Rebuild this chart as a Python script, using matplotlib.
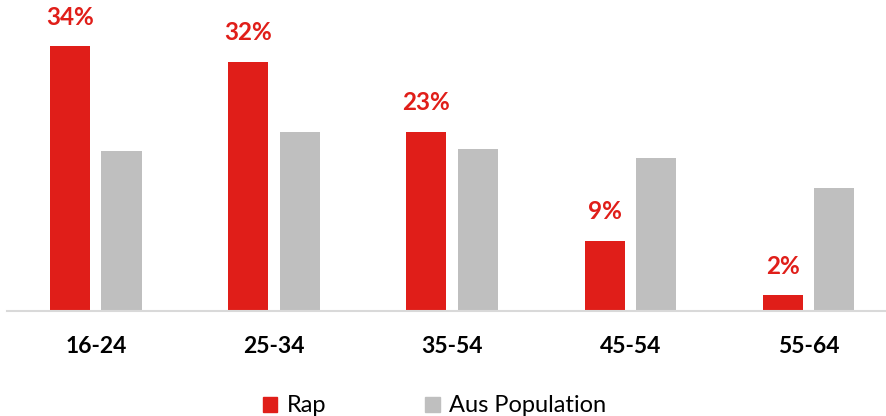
import numpy as np
import matplotlib.pyplot as plt
from matplotlib.patches import Patch

# data
categories = ['16-24', '25-34', '35-54', '45-54', '55-64']
rap = [34, 32, 23, 9, 2]
aus_population = [20.5, 23, 20.8, 19.6, 15.8]

red = '#E01E19'
grey = '#BFBFBF'
plt.rcParams['font.family'] = ['Lato', 'DejaVu Sans']

fig = plt.figure(figsize=(8.87, 4.16), dpi=100)
ax = fig.add_axes([7 / 887, 1 - 311 / 416, 878 / 887, 311 / 416])

x = np.arange(len(categories))
w = 0.225
off = 0.144
ax.bar(x - off, rap, w, color=red)
ax.bar(x + off, aus_population, w, color=grey)

for xi, v in zip(x, rap):
    ax.annotate(f'{v}%', (xi - off, v), xytext=(0, 12.5), textcoords='offset points',
                ha='center', va='bottom', color=red, fontsize=17.5, fontweight='bold')

ax.set_xlim(-0.4986, 4.43)
ax.set_ylim(0, 311 / (265 / 34))
ax.set_yticks([])
ax.set_xticks(x)
ax.set_xticklabels(categories, fontsize=16.5, fontweight='bold')
ax.tick_params(axis='x', length=0, pad=18)
for s in ['top', 'right', 'left']:
    ax.spines[s].set_visible(False)
ax.spines['bottom'].set_color('#D9D9D9')
ax.spines['bottom'].set_linewidth(1.5)

handles = [Patch(color=red, label='Rap'), Patch(color=grey, label='Aus Population')]
fig.legend(handles=handles, loc='lower center', bbox_to_anchor=(0.49, -0.052), ncol=2,
           frameon=False, fontsize=17, handlelength=0.6, handleheight=0.6,
           columnspacing=4.2, handletextpad=0.4)

fig.savefig('out.png', dpi=100)
